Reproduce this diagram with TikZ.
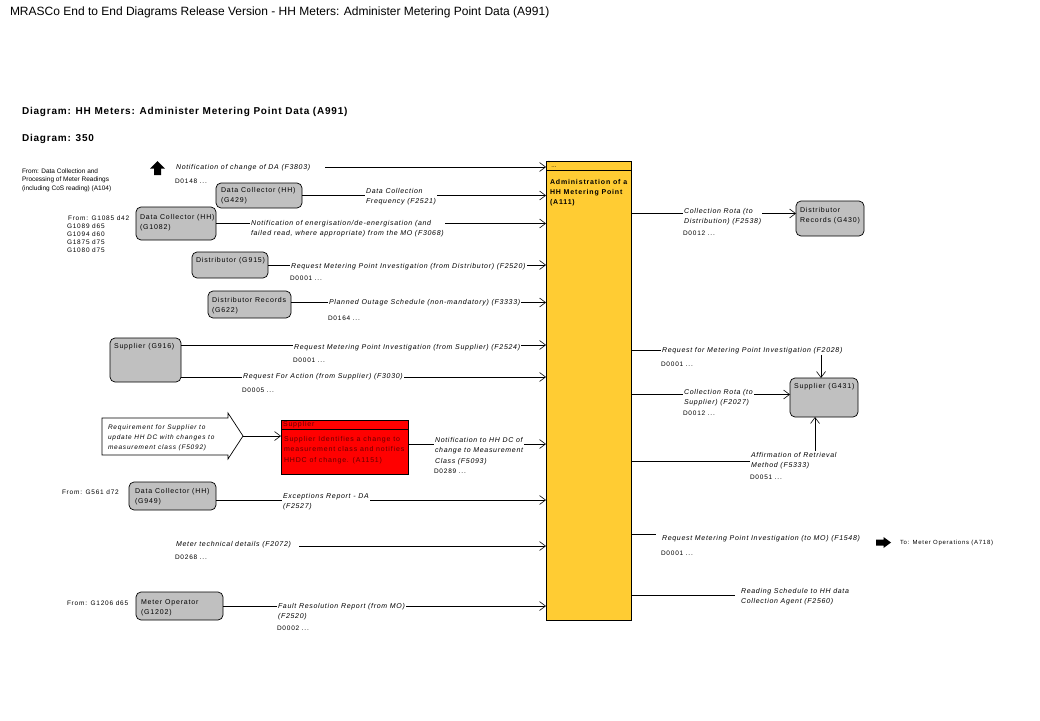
\documentclass[tikz,border=0pt]{standalone}
\usepackage{fontspec}
\setmainfont{Liberation Sans}
\newfontfamily\spfont[LetterSpace=12]{Liberation Sans}
\newfontfamily\lblfont[LetterSpace=10]{Liberation Sans}
\newfontfamily\hdfont[LetterSpace=8]{Liberation Sans}
\usetikzlibrary{arrows.meta}
\definecolor{boxgray}{RGB}{192,192,192}
\definecolor{mainyel}{RGB}{255,204,51}
\definecolor{redbox}{RGB}{255,0,0}
\definecolor{redtxt}{RGB}{100,0,0}
\begin{document}
\begin{tikzpicture}[x=1pt,y=-1pt,
  every node/.style={inner sep=0pt, outer sep=0pt},
  lbl/.style={font=\lblfont\itshape\fontsize{7}{10.5}\selectfont, fill=white, anchor=north west, align=left, inner sep=1pt},
  dcode/.style={font=\spfont\fontsize{6.5}{8}\selectfont, anchor=north west},
  note/.style={font=\fontsize{6.5}{8.5}\selectfont, anchor=north west, align=left},
  snote/.style={font=\spfont\fontsize{6.5}{8}\selectfont, anchor=north west, align=left},
  gbox/.style={draw=black, fill=boxgray, rounded corners=5pt, line width=0.7pt, anchor=north west},
  btxt/.style={font=\spfont\fontsize{7}{10.5}\selectfont, anchor=north west, align=left},
  arr/.style={draw, line width=0.6pt, -{Straight Barb[length=6pt, width=9pt]}},
  ln/.style={draw, line width=0.6pt},
]
\useasboundingbox (0,0) rectangle (1040,720);
\fill[white] (0,0) rectangle (1040,720);

% titles
\node[anchor=north west, font=\fontsize{12}{14}\selectfont] (title) at (10,7) {MRASCo End to End Diagrams Release Version - HH Meters: Administer Metering Point Data (A991)};
\node[anchor=north west, font=\hdfont\bfseries\fontsize{10}{12}\selectfont] (dtitle) at (22,107.5) {Diagram: HH Meters: Administer Metering Point Data (A991)};
\node[anchor=north west, font=\hdfont\bfseries\fontsize{10}{12}\selectfont] (dnum) at (22,134.5) {Diagram: 350};

% main process box
\node[draw=black, fill=mainyel, line width=0.7pt, anchor=north west, minimum width=85pt, minimum height=459pt] (main) at (546,161) {};
\draw[line width=0.6pt] (546,170) -- (631,170);
\node[anchor=north west, font=\fontsize{6}{6}\selectfont] (mhead) at (548,161.5) {\textsuperscript{*}\,...};
\node[btxt, font=\spfont\bfseries\fontsize{7}{10}\selectfont] (mtxt) at (550,179.4) {Administration of a\\HH Metering Point\\(A111)};

% grey boxes
\node[gbox, minimum width=86pt, minimum height=25pt] (g429) at (216,183) {};
\node[gbox, minimum width=80pt, minimum height=33pt] (g1082) at (136,207) {};
\node[gbox, minimum width=76pt, minimum height=26pt] (g915) at (192,252) {};
\node[gbox, minimum width=83pt, minimum height=27pt] (g622) at (208,291) {};
\node[gbox, minimum width=71pt, minimum height=44pt] (g916) at (110,338) {};
\node[gbox, minimum width=87pt, minimum height=28pt] (g949) at (129,482) {};
\node[gbox, minimum width=87pt, minimum height=28pt] (g1202) at (136,592) {};
\node[gbox, minimum width=68pt, minimum height=35pt] (g430) at (796,201) {};
\node[gbox, minimum width=68pt, minimum height=39pt] (g431) at (790,378) {};

\node[btxt] (t429) at (221,187.4) {Data Collector (HH)\\(G429)};
\node[btxt] (t1082) at (140,214.4) {Data Collector (HH)\\(G1082)};
\node[btxt] (t915) at (196,257.4) {Distributor (G915)};
\node[btxt] (t622) at (212,297.4) {Distributor Records\\(G622)};
\node[btxt] (t916) at (114,343.4) {Supplier (G916)};
\node[btxt] (t949) at (135,488.4) {Data Collector (HH)\\(G949)};
\node[btxt] (t1202) at (141,599.4) {Meter Operator\\(G1202)};
\node[btxt] (t430) at (800,207.4) {Distributor\\Records (G430)};
\node[btxt] (t431) at (794,383.4) {Supplier (G431)};

% red process box
\node[draw=black, fill=redbox, line width=0.7pt, anchor=north west, minimum width=127pt, minimum height=54pt] (red) at (281,420) {};
\draw[line width=0.6pt] (281,429) -- (408,429);
\node[btxt, text=redtxt] (rhead) at (283,421.4) {Supplier};
\node[btxt, text=redtxt, font=\spfont\fontsize{7}{10.5}\selectfont] (rtxt) at (284,436.4) {Supplier Identifies a change to\\measurement class and notifies\\HHDC of change. (A1151)};

% off-page block arrow (white)
\draw[line width=0.7pt, fill=white] (102,418) -- (228,418) -- (228,413) -- (243,436) -- (228,459) -- (228,455) -- (102,455) -- cycle;
\coordinate (pent) at (243,436);
\node[note, font=\spfont\itshape\fontsize{6.5}{10}\selectfont] (ptxt) at (108,424.6) {Requirement for Supplier to\\update HH DC with changes to\\measurement class (F5092)};

% black off-page arrows
\fill[black] (157.5,161) -- (165,168.5) -- (161,168.5) -- (161,175) -- (154,175) -- (154,168.5) -- (150,168.5) -- cycle;
\fill[black] (876,539.5) -- (883.5,539.5) -- (883.5,537) -- (891,542.5) -- (883.5,548) -- (883.5,545.5) -- (876,545.5) -- cycle;

% free ends
\coordinate (c1) at (325,167);
\coordinate (c2) at (299,546);
\coordinate (s4) at ([yshift=5pt]g430.west);
\coordinate (r2) at (700,350);
\coordinate (r4) at (700,461);
\coordinate (r5) at (656,534);
\coordinate (r6) at (735,595);

% connectors into main
\draw[arr] (c1) -- (main.west |- c1);
\draw[arr] (g429.east) -- (main.west |- g429.east);
\draw[arr] (g1082.east) -- (main.west |- g1082.east);
\draw[arr] (g915.east) -- (main.west |- g915.east);
\draw[arr] ([yshift=2pt]g622.east) coordinate (s0) -- (main.west |- s0);
\draw[arr] ([yshift=-7pt]g916.north east) coordinate (s1) -- (main.west |- s1);
\draw[arr] ([yshift=5pt]g916.south east) coordinate (s5) -- (main.west |- s5);
\draw[arr] (pent) -- (red.west |- pent);
\draw[arr] ([yshift=3pt]red.east) coordinate (s2) -- (main.west |- s2);
\draw[arr] ([yshift=-4pt]g949.east) coordinate (s3) -- (main.west |- s3);
\draw[arr] (c2) -- (main.west |- c2);
\draw[arr] (g1202.east) -- (main.west |- g1202.east);

% connectors out of main
\draw[arr] (main.east |- s4) -- (s4);
\draw[arr] (main.east |- r2) -| ([xshift=-3pt]g431.north);
\draw[arr] (main.east |- g431.west) ++(0,-3) coordinate (s6) -- (g431.west |- s6);
\draw[arr] (main.east |- r4) -| ([xshift=-9pt]g431.south);
\draw[ln] (main.east |- r5) -- (r5);
\draw[ln] (main.east |- r6) -- (r6);

% flow labels (left)
\node[lbl] (l1) at (175,163.4) {Notification of change of DA (F3803)};
\node[dcode] (d1) at (175,178.6) {D0148 ...};
\node[lbl] (l2) at (365,187.4) {Data Collection\\Frequency (F2521)};
\node[lbl] (l3) at (250,219.4) {Notification of energisation/de-energisation (and\\failed read, where appropriate) from the MO (F3068)};
\node[lbl] (l4) at (290,262.4) {Request Metering Point Investigation (from Distributor) (F2520)};
\node[dcode] (d4) at (290,275.6) {D0001 ...};
\node[lbl] (l5) at (328,298.4) {Planned Outage Schedule (non-mandatory) (F3333)};
\node[dcode] (d5) at (328,315.6) {D0164 ...};
\node[lbl] (l6) at (293,343.4) {Request Metering Point Investigation (from Supplier) (F2524)};
\node[dcode] (d6) at (293,357.6) {D0001 ...};
\node[lbl] (l7) at (242,372.4) {Request For Action (from Supplier) (F3030)};
\node[dcode] (d7) at (242,387.6) {D0005 ...};
\node[lbl] (l8) at (434,436.4) {Notification to HH DC of\\change to Measurement\\Class (F5093)};
\node[dcode] (d8) at (434,468.6) {D0289 ...};
\node[lbl] (l9) at (282,492.4) {Exceptions Report - DA\\(F2527)};
\node[lbl] (l10) at (175,540.4) {Meter technical details (F2072)};
\node[dcode] (d10) at (175,554.6) {D0268 ...};
\node[lbl] (l11) at (277,602.4) {Fault Resolution Report (from MO)\\(F2520)};
\node[dcode] (d11) at (277,625.6) {D0002 ...};

% flow labels (right)
\node[lbl] (r1l) at (683,207.4) {Collection Rota (to\\Distribution) (F2538)};
\node[dcode] (r1d) at (683,230.6) {D0012 ...};
\node[lbl] (r2l) at (661,346.4) {Request for Metering Point Investigation (F2028)};
\node[dcode] (r2d) at (661,361.6) {D0001 ...};
\node[lbl] (r3l) at (683,388.4) {Collection Rota (to\\Supplier) (F2027)};
\node[dcode] (r3d) at (683,410.6) {D0012 ...};
\node[lbl] (r4l) at (750,451.4) {Affirmation of Retrieval\\Method (F5333)};
\node[dcode] (r4d) at (750,474.6) {D0051 ...};
\node[lbl] (r5l) at (661,534.4) {Request Metering Point Investigation (to MO) (F1548)};
\node[dcode] (r5d) at (661,550.6) {D0001 ...};
\node[lbl] (r6l) at (740,587.4) {Reading Schedule to HH data\\Collection Agent (F2560)};
\node[note, font=\spfont\fontsize{6}{8}\selectfont] (tomo) at (900,539.8) {To: Meter Operations (A718)};

% from notes
\node[note] (f1) at (22,168.6) {From: Data Collection and\\Processing of Meter Readings\\(including CoS reading) (A104)};
\node[snote] (f2) at (67,215.6) {\hspace{1pt}From: G1085 d42\\G1089 d65\\G1094 d60\\G1875 d75\\G1080 d75};
\node[snote] (f3) at (62,489.6) {From: G561 d72};
\node[snote] (f4) at (67,600.6) {From: G1206 d65};
\end{tikzpicture}
\end{document}
